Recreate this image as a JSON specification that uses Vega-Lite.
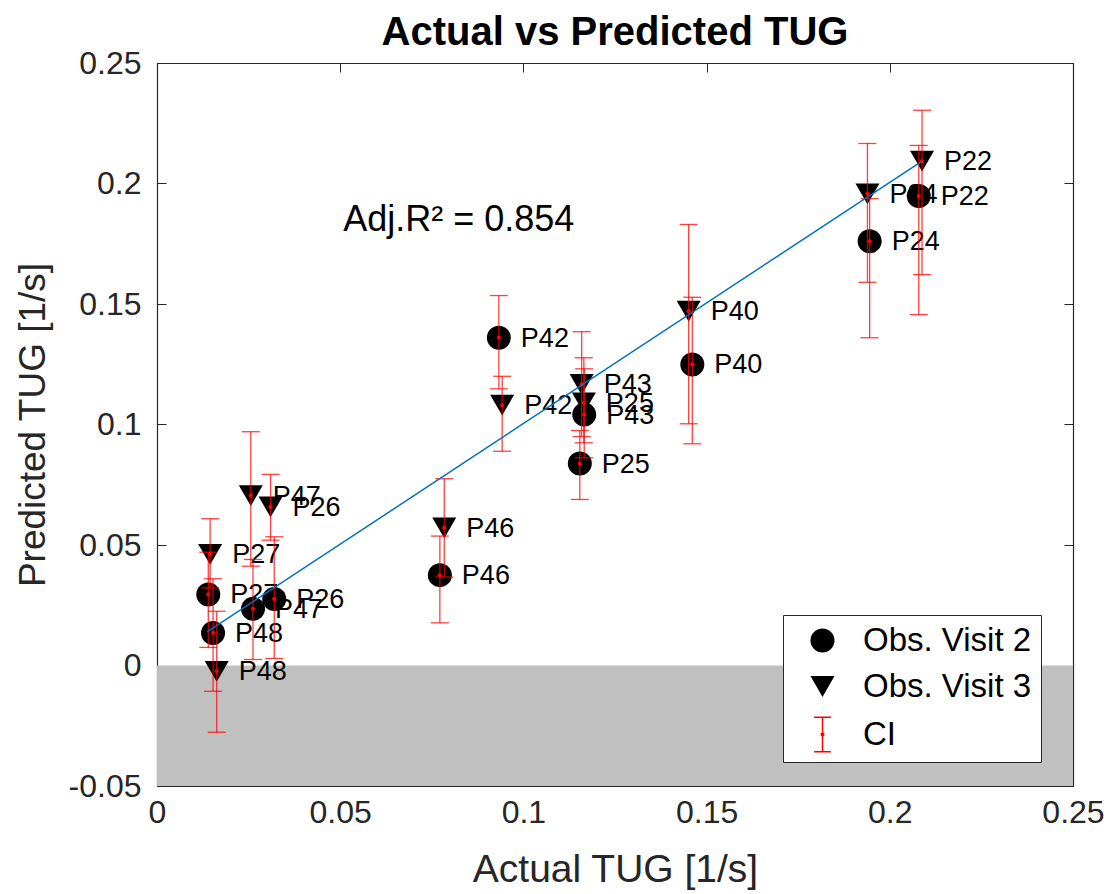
{
  "$schema": "https://vega.github.io/schema/vega-lite/v6.json",
  "width": 916,
  "height": 723,
  "autosize": {"type": "none"},
  "padding": {"left": 157, "top": 63, "right": 38, "bottom": 108},
  "background": "white",
  "title": {"text": "Actual vs Predicted TUG", "font": "Liberation Sans", "fontSize": 40, "fontWeight": "bold", "color": "#000000", "anchor": "middle", "offset": -6},
  "datasets": {
    "pts": [
      {"pid": "P27", "visit": "Obs. Visit 2", "actual": 0.0140, "pred": 0.0295, "lo": 0.0075, "hi": 0.0470},
      {"pid": "P48", "visit": "Obs. Visit 2", "actual": 0.0153, "pred": 0.0135, "lo": -0.0107, "hi": 0.0360},
      {"pid": "P47", "visit": "Obs. Visit 2", "actual": 0.0262, "pred": 0.0235, "lo": 0.0025, "hi": 0.0440},
      {"pid": "P26", "visit": "Obs. Visit 2", "actual": 0.0320, "pred": 0.0276, "lo": 0.0029, "hi": 0.0534},
      {"pid": "P46", "visit": "Obs. Visit 2", "actual": 0.0772, "pred": 0.0375, "lo": 0.0177, "hi": 0.0537},
      {"pid": "P42", "visit": "Obs. Visit 2", "actual": 0.0933, "pred": 0.1360, "lo": 0.1148, "hi": 0.1535},
      {"pid": "P43", "visit": "Obs. Visit 2", "actual": 0.1166, "pred": 0.1041, "lo": 0.0862, "hi": 0.1231},
      {"pid": "P25", "visit": "Obs. Visit 2", "actual": 0.1154, "pred": 0.0838, "lo": 0.0689, "hi": 0.0975},
      {"pid": "P40", "visit": "Obs. Visit 2", "actual": 0.1461, "pred": 0.1249, "lo": 0.0920, "hi": 0.1528},
      {"pid": "P24", "visit": "Obs. Visit 2", "actual": 0.1945, "pred": 0.1760, "lo": 0.1360, "hi": 0.1937},
      {"pid": "P22", "visit": "Obs. Visit 2", "actual": 0.2079, "pred": 0.1948, "lo": 0.1456, "hi": 0.2158},
      {"pid": "P48", "visit": "Obs. Visit 3", "actual": 0.0163, "pred": -0.0024, "lo": -0.0277, "hi": 0.0225},
      {"pid": "P27", "visit": "Obs. Visit 3", "actual": 0.0145, "pred": 0.0461, "lo": 0.0322, "hi": 0.0609},
      {"pid": "P47", "visit": "Obs. Visit 3", "actual": 0.0256, "pred": 0.0705, "lo": 0.0412, "hi": 0.0970},
      {"pid": "P26", "visit": "Obs. Visit 3", "actual": 0.0310, "pred": 0.0658, "lo": 0.0520, "hi": 0.0793},
      {"pid": "P46", "visit": "Obs. Visit 3", "actual": 0.0784, "pred": 0.0571, "lo": 0.0367, "hi": 0.0775},
      {"pid": "P42", "visit": "Obs. Visit 3", "actual": 0.0942, "pred": 0.1080, "lo": 0.0889, "hi": 0.1200},
      {"pid": "P43", "visit": "Obs. Visit 3", "actual": 0.1159, "pred": 0.1166, "lo": 0.0950, "hi": 0.1385},
      {"pid": "P25", "visit": "Obs. Visit 3", "actual": 0.1165, "pred": 0.1090, "lo": 0.0924, "hi": 0.1277},
      {"pid": "P40", "visit": "Obs. Visit 3", "actual": 0.1451, "pred": 0.1470, "lo": 0.1003, "hi": 0.1830},
      {"pid": "P24", "visit": "Obs. Visit 3", "actual": 0.1939, "pred": 0.1957, "lo": 0.1590, "hi": 0.2166},
      {"pid": "P22", "visit": "Obs. Visit 3", "actual": 0.2088, "pred": 0.2093, "lo": 0.1622, "hi": 0.2304}
    ],
    "fit": [
      {"actual": 0.0137, "pred": 0.0140},
      {"actual": 0.2088, "pred": 0.2093}
    ],
    "band": [
      {"x1": 0, "x2": 0.25, "y1": -0.05, "y2": 0}
    ],
    "note": [
      {"actual": 0.0508, "pred": 0.185, "text": "Adj.R² = 0.854"}
    ]
  },
  "layer": [
    {
      "data": {"name": "band"},
      "mark": {"type": "rect", "color": "#c0c0c0"},
      "encoding": {
        "x": {"field": "x1", "type": "quantitative", "scale": {"domain": [0, 0.25], "nice": false, "zero": false},
              "axis": {"orient": "top", "labels": false, "title": null, "values": [0, 0.05, 0.1, 0.15, 0.2, 0.25], "tickSize": -9, "tickColor": "#262626", "domainColor": "#262626", "grid": false}},
        "x2": {"field": "x2"},
        "y": {"field": "y1", "type": "quantitative", "scale": {"domain": [-0.05, 0.25], "nice": false, "zero": false},
              "axis": {"orient": "right", "labels": false, "title": null, "values": [-0.05, 0, 0.05, 0.1, 0.15, 0.2, 0.25], "tickSize": -9, "tickColor": "#262626", "domainColor": "#262626", "grid": false}},
        "y2": {"field": "y2"}
      }
    },
    {
      "data": {"name": "pts"},
      "mark": {"type": "text", "align": "left", "baseline": "middle", "dx": 22, "dy": 1, "font": "Liberation Sans", "fontSize": 27, "color": "#000000"},
      "encoding": {
        "x": {"field": "actual", "type": "quantitative", "scale": {"domain": [0, 0.25], "nice": false, "zero": false}, "axis": null},
        "y": {"field": "pred", "type": "quantitative", "scale": {"domain": [-0.05, 0.25], "nice": false, "zero": false}, "axis": null},
        "text": {"field": "pid"}
      }
    },
    {
      "data": {"name": "pts"},
      "mark": {"type": "point", "filled": true, "opacity": 1, "size": 576},
      "encoding": {
        "x": {"field": "actual", "type": "quantitative", "scale": {"domain": [0, 0.25], "nice": false, "zero": false}, "axis": null},
        "y": {"field": "pred", "type": "quantitative", "scale": {"domain": [-0.05, 0.25], "nice": false, "zero": false}, "axis": null},
        "shape": {"field": "visit", "type": "nominal",
                  "scale": {"domain": ["Obs. Visit 2", "Obs. Visit 3", "CI"], "range": ["circle", "triangle-down", "M-0.06,-1.5H0.06V1.5H-0.06Z M-0.7,-1.5H0.7V-1.38H-0.7Z M-0.7,1.38H0.7V1.5H-0.7Z M-0.17,0A0.17,0.17 0 1 1 0.17,0A0.17,0.17 0 1 1 -0.17,0Z"]},
                  "legend": {"title": null, "orient": "none", "legendX": 626, "legendY": 552, "fillColor": "white", "strokeColor": "#262626", "padding": 9, "symbolSize": 576, "labelFont": "Liberation Sans", "labelFontSize": 33, "labelColor": "#000000", "labelLimit": 400, "labelOffset": 24, "rowPadding": 12, "symbolOffset": 14, "symbolStrokeWidth": 0}},
        "color": {"field": "visit", "type": "nominal",
                  "scale": {"domain": ["Obs. Visit 2", "Obs. Visit 3", "CI"], "range": ["#000000", "#000000", "#ff0000"]}}
      }
    },
    {
      "data": {"name": "pts"},
      "mark": {"type": "rule", "color": "#ff0000", "strokeWidth": 1.3, "opacity": 0.75},
      "encoding": {
        "x": {"field": "actual", "type": "quantitative", "scale": {"domain": [0, 0.25], "nice": false, "zero": false}, "axis": null},
        "y": {"field": "lo", "type": "quantitative", "scale": {"domain": [-0.05, 0.25], "nice": false, "zero": false}, "axis": null},
        "y2": {"field": "hi"}
      }
    },
    {
      "data": {"name": "pts"},
      "mark": {"type": "tick", "orient": "horizontal", "color": "#ff0000", "size": 18, "thickness": 1.3, "opacity": 0.75},
      "encoding": {
        "x": {"field": "actual", "type": "quantitative", "scale": {"domain": [0, 0.25], "nice": false, "zero": false}, "axis": null},
        "y": {"field": "lo", "type": "quantitative", "scale": {"domain": [-0.05, 0.25], "nice": false, "zero": false}, "axis": null}
      }
    },
    {
      "data": {"name": "pts"},
      "mark": {"type": "tick", "orient": "horizontal", "color": "#ff0000", "size": 18, "thickness": 1.3, "opacity": 0.75},
      "encoding": {
        "x": {"field": "actual", "type": "quantitative", "scale": {"domain": [0, 0.25], "nice": false, "zero": false}, "axis": null},
        "y": {"field": "hi", "type": "quantitative", "scale": {"domain": [-0.05, 0.25], "nice": false, "zero": false}, "axis": null}
      }
    },
    {
      "data": {"name": "pts"},
      "mark": {"type": "point", "filled": true, "color": "#ff0000", "size": 18, "opacity": 1},
      "encoding": {
        "x": {"field": "actual", "type": "quantitative", "scale": {"domain": [0, 0.25], "nice": false, "zero": false}, "axis": null},
        "y": {"field": "pred", "type": "quantitative", "scale": {"domain": [-0.05, 0.25], "nice": false, "zero": false}, "axis": null}
      }
    },
    {
      "data": {"name": "fit"},
      "mark": {"type": "line", "color": "#0072BD", "strokeWidth": 1.5},
      "encoding": {
        "x": {"field": "actual", "type": "quantitative", "scale": {"domain": [0, 0.25], "nice": false, "zero": false},
              "axis": {"orient": "bottom", "title": "Actual TUG [1/s]", "values": [0, 0.05, 0.1, 0.15, 0.2, 0.25], "format": ".2~f", "tickSize": -9, "tickColor": "#262626", "domainColor": "#262626", "grid": false, "labelFont": "Liberation Sans", "labelFontSize": 32, "labelColor": "#262626", "labelPadding": 20, "labelFlush": false, "titleFont": "Liberation Sans", "titleFontSize": 39, "titleFontWeight": "normal", "titleColor": "#262626", "titlePadding": 22}},
        "y": {"field": "pred", "type": "quantitative", "scale": {"domain": [-0.05, 0.25], "nice": false, "zero": false},
              "axis": {"orient": "left", "title": "Predicted TUG [1/s]", "values": [-0.05, 0, 0.05, 0.1, 0.15, 0.2, 0.25], "labelExpr": "replace(format(datum.value, '.2~f'), '\u2212', '-')", "tickSize": -9, "tickColor": "#262626", "domainColor": "#262626", "grid": false, "labelFont": "Liberation Sans", "labelFontSize": 32, "labelColor": "#262626", "labelPadding": 25, "labelFlush": false, "titleFont": "Liberation Sans", "titleFontSize": 37, "titleFontWeight": "normal", "titleColor": "#262626", "titlePadding": 16}}
      }
    },
    {
      "data": {"name": "note"},
      "mark": {"type": "text", "align": "left", "baseline": "middle", "font": "Liberation Sans", "fontSize": 36, "color": "#000000"},
      "encoding": {
        "x": {"field": "actual", "type": "quantitative", "scale": {"domain": [0, 0.25], "nice": false, "zero": false}, "axis": null},
        "y": {"field": "pred", "type": "quantitative", "scale": {"domain": [-0.05, 0.25], "nice": false, "zero": false}, "axis": null},
        "text": {"field": "text"}
      }
    }
  ],
  "config": {
    "view": {"stroke": null},
    "axis": {"domainWidth": 1.2, "tickWidth": 1}
  }
}
